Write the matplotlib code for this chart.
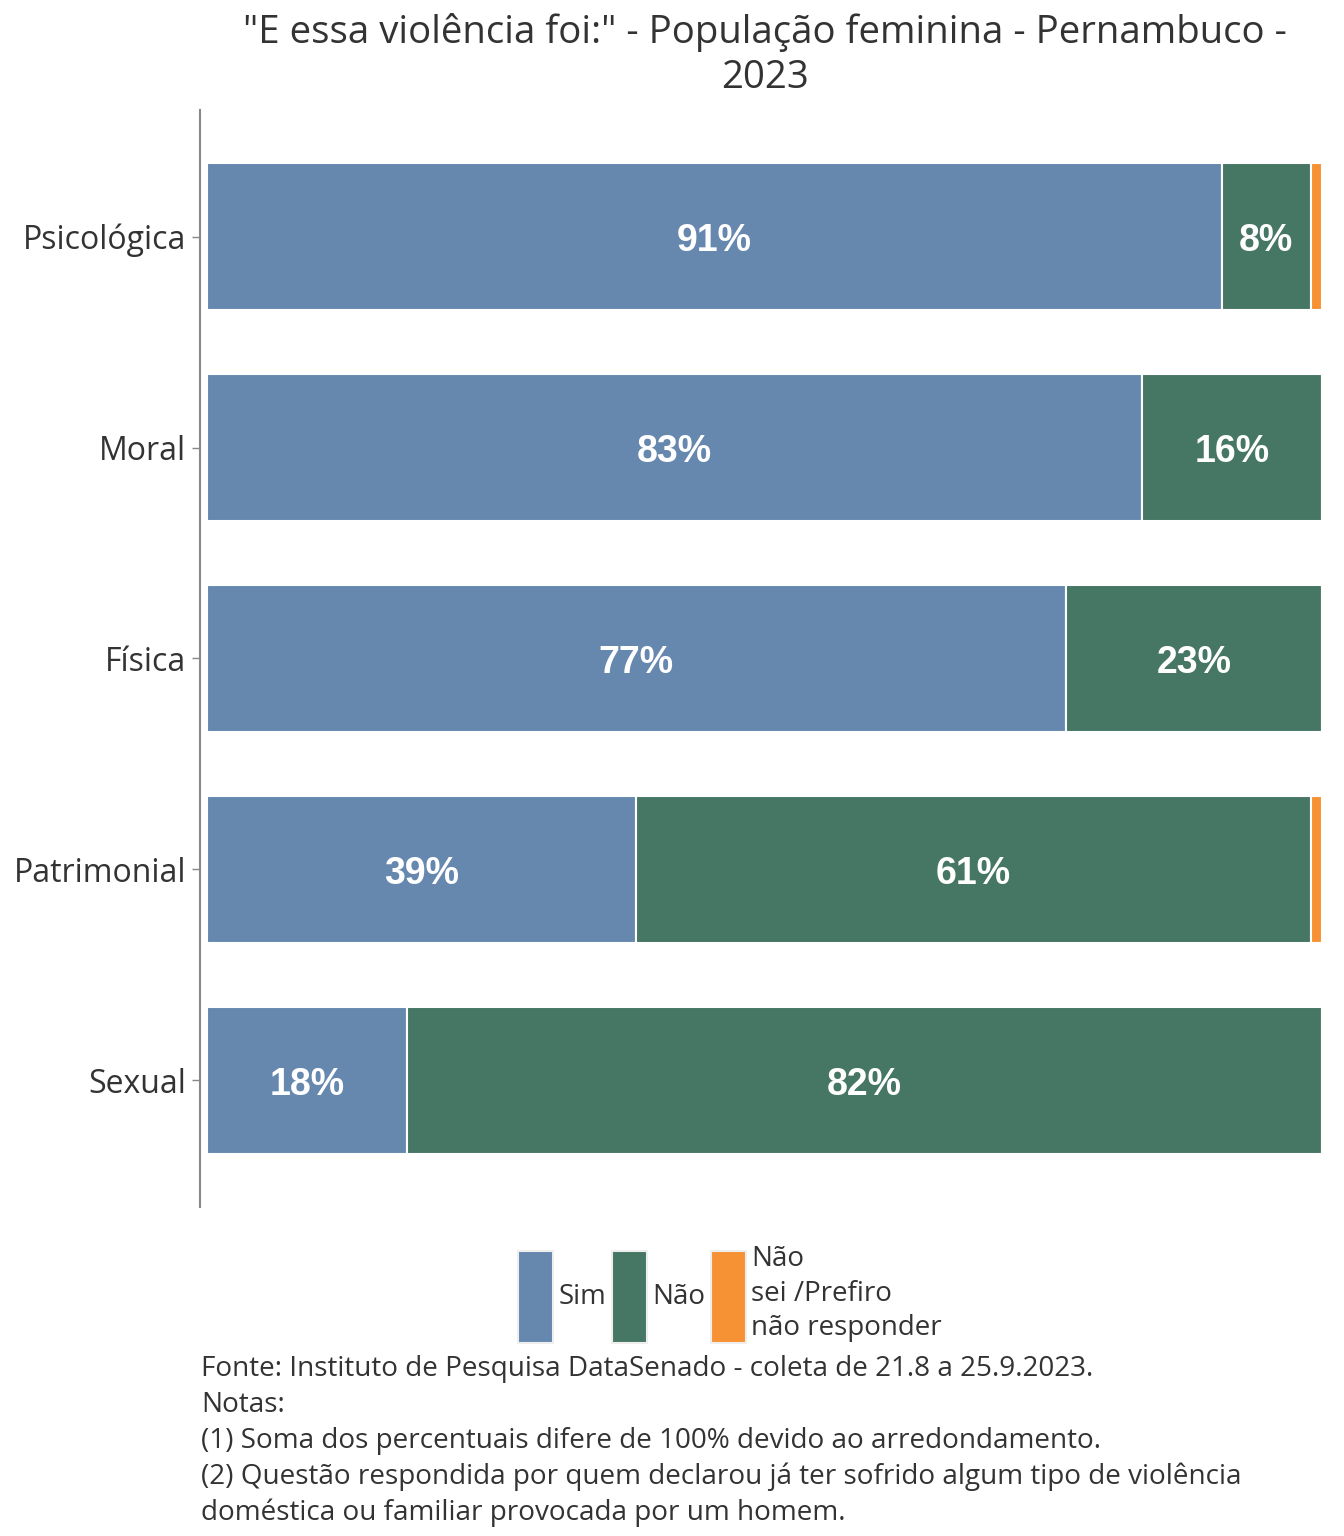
import matplotlib
matplotlib.use("Agg")
import matplotlib.pyplot as plt
from matplotlib.patches import Patch
import numpy as np

categories = ["Psicológica", "Moral", "Física", "Patrimonial", "Sexual"]
sim = [91.0, 83.9, 77.0, 38.5, 17.9]
nao = [8.0, 16.1, 23.0, 60.5, 82.1]
ns = [1.0, 0.0, 0.0, 1.0, 0.0]
sim_labels = ["91%", "83%", "77%", "39%", "18%"]
nao_labels = ["8%", "16%", "23%", "61%", "82%"]
series_names = ["Sim", "Não", "Não\nsei /Prefiro\nnão responder"]
colors = ["#6688AF", "#467664", "#F79234"]

title = '"E essa violência foi:" - População feminina - Pernambuco -\n2023'
footer = ("Fonte: Instituto de Pesquisa DataSenado - coleta de 21.8 a 25.9.2023.\n"
          "Notas:\n"
          "(1) Soma dos percentuais difere de 100% devido ao arredondamento.\n"
          "(2) Questão respondida por quem declarou já ter sofrido algum tipo de violência\n"
          "doméstica ou familiar provocada por um homem.")

plt.rcParams['font.family'] = ['Open Sans', 'DejaVu Sans']
txt_color = "#333333"

fig = plt.figure(figsize=(13.44, 15.36), dpi=100)
ax = fig.add_axes([200/1344, 1 - 1207/1536, (1322 - 200)/1344, (1207 - 110)/1536])

y = np.arange(len(categories))
h = 0.70
left = np.zeros(len(categories))
for vals, col in zip([sim, nao, ns], colors):
    ax.barh(y, vals, left=left, height=h, color=col, edgecolor="white", linewidth=1.5)
    left = left + np.array(vals)

left = np.zeros(len(categories))
for vals, labs in zip([sim, nao], [sim_labels, nao_labels]):
    for i, (v, lab) in enumerate(zip(vals, labs)):
        ax.text(left[i] + v/2, y[i] + 0.02, lab, ha="center", va="center", color="white",
                fontsize=27, fontweight="bold", family=["Liberation Sans", "DejaVu Sans"])
    left = left + np.array(vals)

ax.set_xlim(-0.63, 100)
ax.set_ylim(len(categories) - 0.4, -0.6)
ax.set_yticks(y)
ax.set_yticklabels(categories, fontsize=23, color=txt_color)
ax.tick_params(axis="y", length=6, color="#888888", width=1, pad=4)
ax.set_xticks([])
for s in ["top", "right", "bottom"]:
    ax.spines[s].set_visible(False)
ax.spines["left"].set_color("#888888")
ax.spines["left"].set_linewidth(1.5)

fig.text(765/1344, 1 - 13/1536, title, ha="center", va="top", fontsize=27.6,
         color=txt_color, linespacing=1.25)

handles = [Patch(facecolor=c, edgecolor="#eeeeee", linewidth=1.5) for c in colors]
leg = fig.legend(handles, series_names, loc="center", bbox_to_anchor=(730/1344, 1 - 1294/1536),
                 ncol=3, frameon=False, fontsize=20, handlelength=1.26, handleheight=4.75,
                 handletextpad=0.2, columnspacing=0.2, labelspacing=0.2)
for t in leg.get_texts():
    t.set_color(txt_color)
    t.set_linespacing(1.33)

fig.text(201/1344, 1 - 1355/1536, footer, ha="left", va="top", fontsize=20.1,
         color=txt_color, linespacing=1.37)

fig.savefig("out.png", dpi=100, facecolor="white")
